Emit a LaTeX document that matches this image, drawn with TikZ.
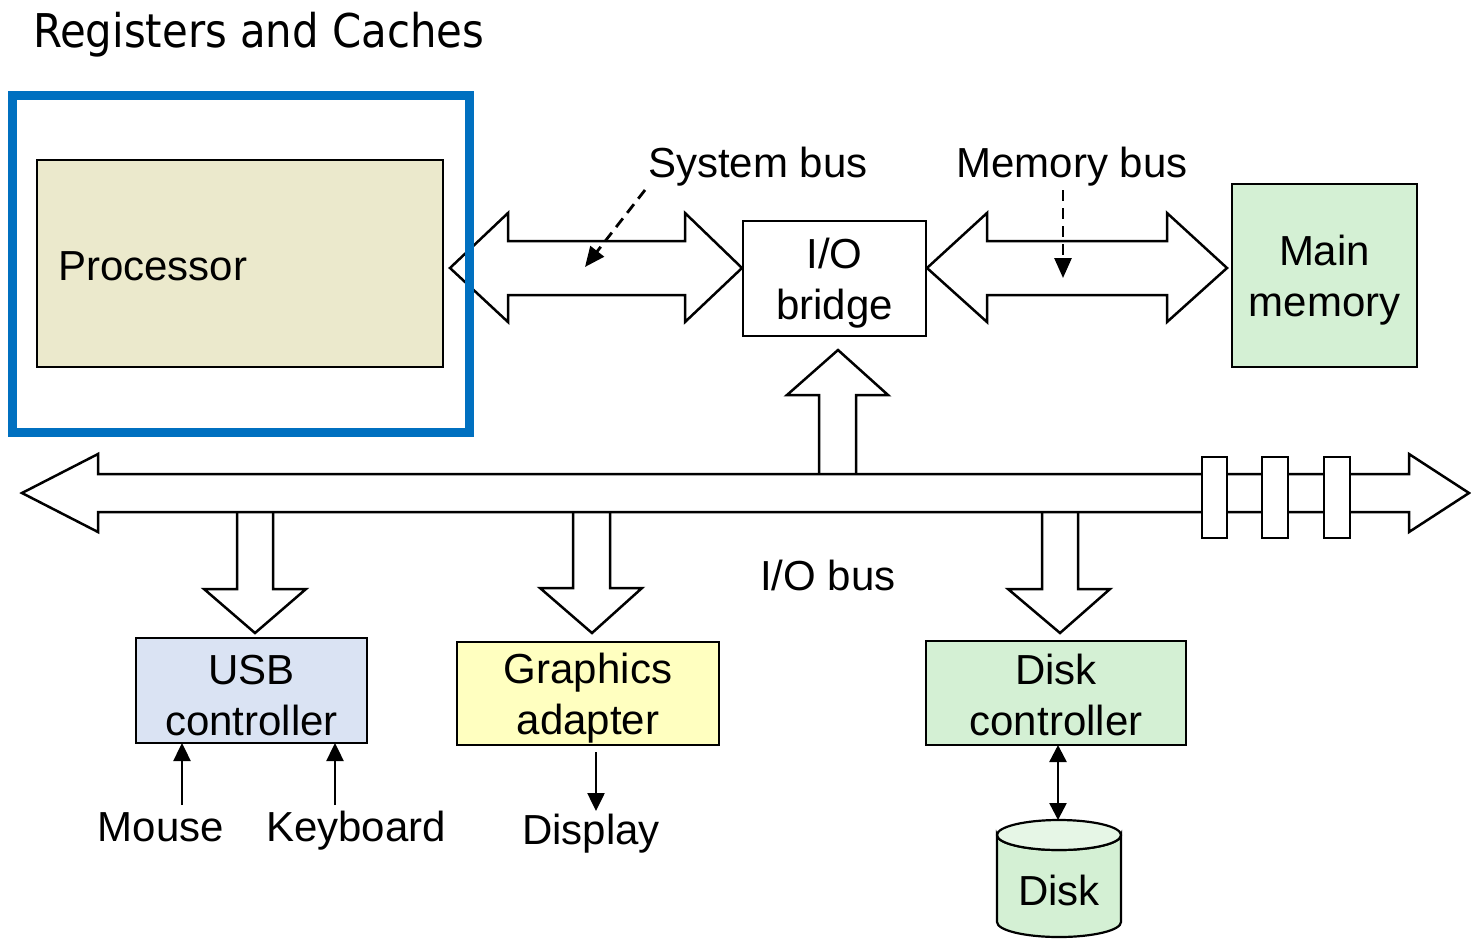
\documentclass[tikz,border=0pt]{standalone}
\usepackage{fontspec}
\setmainfont{Liberation Sans}
\newfontfamily\titlefont{DejaVu Sans Condensed}
\usetikzlibrary{arrows.meta}
\definecolor{procfill}{RGB}{235,233,204}
\definecolor{procblue}{RGB}{0,112,192}
\definecolor{memgreen}{RGB}{212,240,212}
\definecolor{usbblue}{RGB}{218,227,243}
\definecolor{gfxyellow}{RGB}{255,255,192}
\definecolor{disktopc}{RGB}{230,246,230}
\tikzset{
  box/.style={draw, line width=2.2pt, inner sep=0pt, outer sep=0pt, align=center},
  lbl/.style={inner sep=0pt, align=center, font=\fontsize{42}{51}\selectfont},
  boxtext/.style={label={[lbl, yshift=-5pt]center:#1}},
  bigarrow/.style={draw, fill=white, line width=2.5pt, line join=miter},
  conn/.style={line width=2.5pt, -{Triangle[length=18pt,width=17pt]}},
  biconn/.style={line width=2.5pt, {Triangle[length=17pt,width=17pt]}-{Triangle[length=17pt,width=17pt]}},
  dconn/.style={line width=2.8pt, dash pattern=on 11pt off 7pt, -{Triangle[length=20pt,width=17pt]}},
  tick/.style={draw, fill=white, line width=2.5pt}
}
\begin{document}
\begin{tikzpicture}[x=1pt,y=-1pt]
\useasboundingbox (0,0) rectangle (1471,938);
% title
\node[anchor=base west, inner sep=0pt, font=\titlefont\fontsize{46.5}{52}\selectfont] (title) at (33,47) {Registers and Caches};
% system bus and memory bus arrows
\path[bigarrow] (450,268) -- (508,213) -- (508,241) -- (685,241) -- (685,213) -- (742,268)
  -- (685,322) -- (685,295) -- (508,295) -- (508,322) -- cycle;
\path[bigarrow] (927,268) -- (987,213) -- (987,241) -- (1167,241) -- (1167,213) -- (1227,268)
  -- (1167,322) -- (1167,295) -- (987,295) -- (987,322) -- cycle;
% processor
\node[box, fill=procfill, minimum width=406pt, minimum height=207pt] (proc) at (240,263.5) {};
\node[lbl, anchor=west] (proctext) at (58,266) {Processor};
\draw[procblue, line width=9pt] (12.5,95) rectangle (469.5,432.5);
% I/O bridge and main memory
\node[box, fill=white, minimum width=183pt, minimum height=115pt, boxtext={I/O\\bridge}] (bridge) at (834.5,278.5) {};
\node[box, fill=memgreen, minimum width=185pt, minimum height=183pt, boxtext={Main\\memory}] (mem) at (1324.5,275.5) {};
% bus labels and dashed pointers
\node[lbl, anchor=base] (sysbus) at (758,177) {System bus};
\node[lbl, anchor=base] (membus) at (1072,177) {Memory bus};
\coordinate (sysfrom) at (645,190);
\coordinate (systo) at (585,267);
\coordinate (memfrom) at (1063,190);
\coordinate (memto) at (1063,278);
\draw[dconn] (sysfrom) -- (systo);
\draw[dconn] (memfrom) -- (memto);
% up arrow to bridge and down arrows (drawn under the bus)
\path[bigarrow] (819,476) -- (819,395) -- (787,395) -- (838,350) -- (888,395) -- (856,395) -- (856,476);
\path[bigarrow] (237,510) -- (237,589) -- (204,589) -- (255,633) -- (306,589) -- (273,589) -- (273,510);
\path[bigarrow] (573,510) -- (573,588) -- (540,588) -- (592,633) -- (642,588) -- (610,588) -- (610,510);
\path[bigarrow] (1042,510) -- (1042,589) -- (1008,589) -- (1060,633) -- (1110,589) -- (1078,589) -- (1078,510);
% I/O bus
\path[bigarrow] (22,493) -- (98,454) -- (98,474) -- (1409,474) -- (1409,454) -- (1469,493)
  -- (1409,532) -- (1409,512) -- (98,512) -- (98,532) -- cycle;
\path[tick] (1202,457) rectangle (1227,538);
\path[tick] (1262,457) rectangle (1288,538);
\path[tick] (1324,457) rectangle (1350,538);
\node[lbl, anchor=base] (iobus) at (828,590) {I/O bus};
% controllers
\node[box, fill=usbblue, minimum width=231pt, minimum height=105pt, boxtext={USB\\controller}] (usb) at (251.5,690.5) {};
\node[box, fill=gfxyellow, minimum width=262pt, minimum height=103pt, boxtext={Graphics\\adapter}] (gfx) at (588,693.5) {};
\node[box, fill=memgreen, minimum width=260pt, minimum height=104pt, label={[lbl, yshift=-2pt]center:Disk\\controller}] (diskctl) at (1056,693) {};
% devices
\node[lbl, anchor=base] (mouse) at (161,841) {Mouse};
\node[lbl, anchor=base] (keyboard) at (356,841) {Keyboard};
\node[lbl, anchor=base] (display) at (591,844) {Display};
\coordinate (mousetail) at (182,805);
\coordinate (kbdtail) at (335,805);
\coordinate (disptip) at (596,811);
\draw[conn] (mousetail) -- (mousetail |- usb.south);
\draw[conn] (kbdtail) -- (kbdtail |- usb.south);
\draw[conn] (disptip |- gfx.south) ++(0,7) -- (disptip);
% disk cylinder
\filldraw[fill=memgreen, line width=2.2pt] (997,835) -- (997,922) arc[start angle=180, end angle=0, x radius=62, y radius=15]
  -- (1121,835) arc[start angle=0, end angle=180, x radius=62, y radius=15] -- cycle;
\filldraw[fill=disktopc, line width=2.2pt] (1059,835) ellipse [x radius=62, y radius=15];
\node[lbl] (disk) at (1059,890) {Disk};
\coordinate (disktop) at (1058,820);
\draw[biconn] (disktop |- diskctl.south) -- (disktop);
\end{tikzpicture}
\end{document}
